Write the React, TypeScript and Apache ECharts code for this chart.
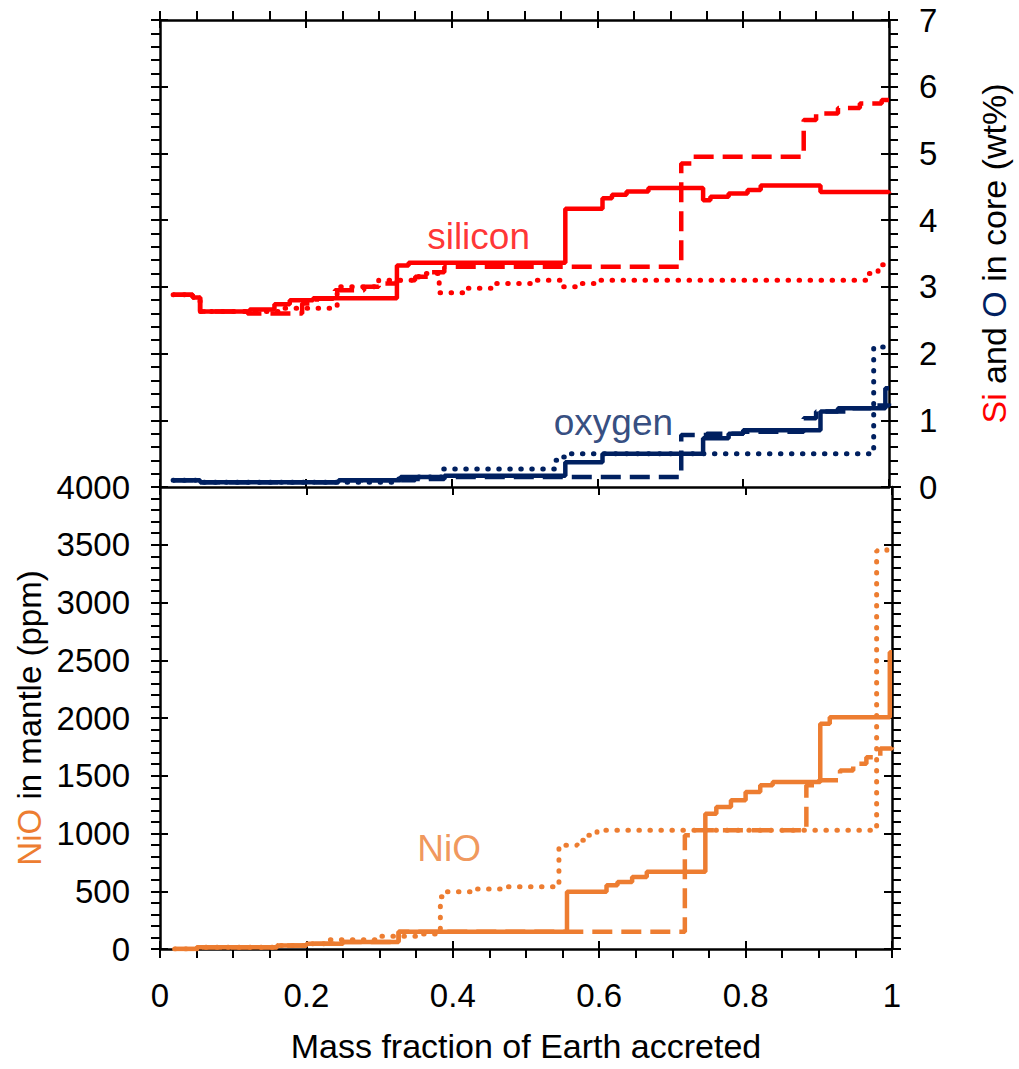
import React, { useEffect, useRef } from "react";
import * as echarts from "echarts";

// ---------- data ----------
const xTicks = [0, 0.2, 0.4, 0.6, 0.8, 1];
const coreTicks = [0, 1, 2, 3, 4, 5, 6, 7];
const mantleTicks = [0, 500, 1000, 1500, 2000, 2500, 3000, 3500, 4000];

// silicon in core (wt%) — [mass fraction, value]
const siSolid = [
  [0.018, 2.88], [0.045, 2.84], [0.055, 2.63], [0.123, 2.66], [0.157, 2.74], [0.178, 2.8],
  [0.21, 2.83], [0.325, 3.32], [0.341, 3.36], [0.556, 4.17], [0.607, 4.33], [0.62, 4.38],
  [0.64, 4.43], [0.67, 4.48], [0.745, 4.3], [0.755, 4.35], [0.78, 4.4], [0.806, 4.45],
  [0.824, 4.52], [0.906, 4.42], [1.0, 4.4],
];
const siDashed = [
  [0.018, 2.88], [0.045, 2.84], [0.055, 2.63], [0.12, 2.6], [0.195, 2.75], [0.215, 2.82],
  [0.24, 2.95], [0.28, 3.0], [0.3, 3.05], [0.325, 3.1], [0.35, 3.15], [0.373, 3.22],
  [0.39, 3.3], [0.715, 4.85], [0.73, 4.95], [0.883, 5.5], [0.9, 5.6], [0.93, 5.68],
  [0.96, 5.75], [0.99, 5.8], [1.0, 5.82],
];
const siDotted = [
  [0.018, 2.88], [0.045, 2.84], [0.055, 2.63], [0.168, 2.68], [0.243, 3.0], [0.3, 3.1],
  [0.355, 3.2], [0.383, 2.91], [0.42, 2.98], [0.46, 3.05], [0.51, 3.1], [0.549, 3.0],
  [0.57, 3.05], [0.6, 3.1], [0.97, 3.2], [0.985, 3.33], [1.0, 3.4],
];
// oxygen in core (wt%)
const oSolid = [
  [0.018, 0.1], [0.055, 0.07], [0.245, 0.1], [0.33, 0.15], [0.39, 0.17], [0.556, 0.37],
  [0.607, 0.5], [0.745, 0.73], [0.78, 0.8], [0.8, 0.85], [0.906, 1.13], [0.93, 1.18],
  [0.995, 1.48], [1.0, 1.48],
];
const oDashed = [
  [0.018, 0.1], [0.055, 0.07], [0.245, 0.1], [0.35, 0.12], [0.39, 0.15], [0.715, 0.78],
  [0.75, 0.8], [0.8, 0.83], [0.883, 1.03], [0.9, 1.13], [0.95, 1.18], [0.98, 1.22],
  [1.0, 1.25],
];
const oDotted = [
  [0.018, 0.1], [0.055, 0.07], [0.32, 0.12], [0.35, 0.15], [0.387, 0.27], [0.542, 0.4],
  [0.55, 0.45], [0.56, 0.5], [0.979, 2.1], [1.0, 2.12],
];
// NiO in mantle (ppm)
const nSolid = [
  [0.02, 0], [0.05, 15], [0.16, 30], [0.2, 45], [0.25, 60], [0.326, 150], [0.556, 495],
  [0.61, 553], [0.625, 581], [0.645, 624], [0.665, 668], [0.745, 1172], [0.76, 1229],
  [0.78, 1287], [0.8, 1359], [0.82, 1417], [0.837, 1445], [0.902, 1950], [0.915, 2007],
  [0.997, 2569], [1.0, 2569],
];
const nDashed = [
  [0.02, 0], [0.05, 15], [0.16, 30], [0.2, 45], [0.25, 60], [0.326, 150], [0.717, 985],
  [0.73, 1028], [0.883, 1417], [0.9, 1460], [0.929, 1546], [0.947, 1604], [0.965, 1661],
  [0.984, 1736], [1.0, 1762],
];
const nDotted = [
  [0.02, 0], [0.05, 15], [0.16, 30], [0.2, 45], [0.23, 80], [0.3, 110], [0.35, 130],
  [0.383, 452], [0.39, 495], [0.43, 520], [0.465, 538], [0.545, 898], [0.57, 942],
  [0.58, 985], [0.597, 1028], [0.979, 3447], [0.993, 3476], [1.0, 3476],
];
// annotation anchors [x, y, text]
const siLabel = [0.437, 3.76, "silicon"];
const oLabel = [0.622, 0.97, "oxygen"];
const nLabel = [0.395, 870, "NiO"];

const RED = "#FF0000";
const NAVY = "#002060";
const ORANGE = "#ED7D31";
const FONT = "'Liberation Sans', Arial, sans-serif";

function App() {
  const ref = useRef<HTMLDivElement>(null);
  useEffect(() => {
    const chart = echarts.init(ref.current!, null, { renderer: "svg" });
    const line = { show: true, onZero: false, lineStyle: { color: "#000", width: 2.5 } };
    const noLine = { show: false, onZero: false };
    const tickOut = { show: true, inside: false, length: 9, lineStyle: { color: "#000", width: 2 } };
    const tickIn = { show: true, inside: true, length: 8, lineStyle: { color: "#000", width: 2 } };
    const minor = (n: number) => ({ show: true, splitNumber: n, length: 9, lineStyle: { color: "#000", width: 2 } });
    const xBase = { type: "value", min: 0, max: 1, interval: 0.2, splitLine: { show: false } };
    const coreBase = { type: "value", min: 0, max: 7, interval: 1, splitLine: { show: false } };
    const mantleBase = { type: "value", min: 0, max: 4000, interval: 500, splitLine: { show: false } };
    const noLab = { show: false };

    const mkLine = (name: string, data: number[][], color: string, style: string, xi: number, yi: number) => {
      let lineStyle: any = { color, width: 4.5 };
      if (style === "dashed") lineStyle = { color, width: 4.5, type: [20, 9] };
      if (style === "dotted") lineStyle = { color, width: 5, type: [0.5, 10.5], cap: "round" };
      return {
        type: "line", name, data, step: "end", showSymbol: false, symbol: "none",
        xAxisIndex: xi, yAxisIndex: yi, lineStyle, silent: true, z: 3,
      };
    };
    const mkLabel = (lab: any[], color: string, xi: number, yi: number) => ({
      type: "scatter", xAxisIndex: xi, yAxisIndex: yi, symbolSize: 1, silent: true,
      itemStyle: { color: "transparent" }, z: 5,
      data: [[lab[0], lab[1]]],
      label: {
        show: true, position: "inside", formatter: lab[2], color,
        fontSize: 37, fontFamily: FONT,
      },
    });
    const tickLabel = (ticks: number[]) => ({
      show: true, margin: 30, fontSize: 33, color: "#000", fontFamily: FONT,
      formatter: (v: number) => (ticks.includes(v) ? String(v) : ""),
    });

    const option: any = {
      animation: false,
      textStyle: { fontFamily: FONT },
      grid: [
        { left: 160, top: 20, width: 732, height: 467 },
        { left: 160, top: 487, width: 732, height: 462 },
      ],
      xAxis: [
        { ...xBase, gridIndex: 0, position: "top", axisLine: line, axisTick: tickOut, minorTick: minor(4), axisLabel: noLab },
        { ...xBase, gridIndex: 0, position: "top", axisLine: noLine, axisTick: tickIn, axisLabel: noLab },
        { ...xBase, gridIndex: 0, position: "bottom", axisLine: line, axisTick: tickIn, axisLabel: noLab },
        {
          ...xBase, gridIndex: 1, position: "bottom", axisLine: line, axisTick: tickOut, minorTick: minor(4),
          axisLabel: tickLabel(xTicks),
          name: "Mass fraction of Earth accreted", nameLocation: "middle", nameGap: 80,
          nameTextStyle: { fontSize: 34, color: "#000", fontFamily: FONT },
        },
        { ...xBase, gridIndex: 1, position: "bottom", axisLine: noLine, axisTick: tickIn, axisLabel: noLab },
        { ...xBase, gridIndex: 1, position: "top", axisLine: noLine, axisTick: tickIn, axisLabel: noLab },
      ],
      yAxis: [
        {
          ...coreBase, gridIndex: 0, position: "right", axisLine: line, axisTick: tickOut, minorTick: minor(5),
          axisLabel: tickLabel(coreTicks),
          name: "{r|Si} and {b|O} in core (wt%)", nameLocation: "middle", nameRotate: 90, nameGap: 88,
          nameTextStyle: {
            fontSize: 34, color: "#000", fontFamily: FONT,
            rich: { r: { color: RED, fontSize: 34, fontFamily: FONT }, b: { color: NAVY, fontSize: 34, fontFamily: FONT } },
          },
        },
        { ...coreBase, gridIndex: 0, position: "right", axisLine: noLine, axisTick: tickIn, axisLabel: noLab },
        { ...coreBase, gridIndex: 0, position: "left", axisLine: line, axisTick: tickOut, minorTick: minor(5), axisLabel: noLab },
        { ...coreBase, gridIndex: 0, position: "left", axisLine: noLine, axisTick: tickIn, axisLabel: noLab },
        {
          ...mantleBase, gridIndex: 1, position: "left", axisLine: line, axisTick: tickOut, minorTick: minor(5),
          axisLabel: tickLabel(mantleTicks),
          name: "{o|NiO} in mantle (ppm)", nameLocation: "middle", nameRotate: 90, nameGap: 114,
          nameTextStyle: {
            fontSize: 33, color: "#000", fontFamily: FONT,
            rich: { o: { color: ORANGE, fontSize: 33, fontFamily: FONT } },
          },
        },
        { ...mantleBase, gridIndex: 1, position: "left", axisLine: noLine, axisTick: tickIn, axisLabel: noLab },
        { ...mantleBase, gridIndex: 1, position: "right", axisLine: line, axisTick: tickOut, minorTick: minor(5), axisLabel: noLab },
        { ...mantleBase, gridIndex: 1, position: "right", axisLine: noLine, axisTick: tickIn, axisLabel: noLab },
      ],
      series: [
        mkLine("Si dotted", siDotted, RED, "dotted", 0, 0),
        mkLine("Si dashed", siDashed, RED, "dashed", 0, 0),
        mkLine("Si solid", siSolid, RED, "solid", 0, 0),
        mkLine("O dotted", oDotted, NAVY, "dotted", 0, 0),
        mkLine("O dashed", oDashed, NAVY, "dashed", 0, 0),
        mkLine("O solid", oSolid, NAVY, "solid", 0, 0),
        mkLine("NiO dotted", nDotted, ORANGE, "dotted", 3, 4),
        mkLine("NiO dashed", nDashed, ORANGE, "dashed", 3, 4),
        mkLine("NiO solid", nSolid, ORANGE, "solid", 3, 4),
        mkLabel(siLabel, RED, 0, 0),
        mkLabel(oLabel, NAVY, 0, 0),
        mkLabel(nLabel, ORANGE, 3, 4),
      ],
    };
    chart.setOption(option);
    return () => chart.dispose();
  }, []);
  return (
    <div
      ref={ref}
      style={{ position: "fixed", left: 0, top: 0, width: 1019, height: 1069, background: "#fff" }}
    />
  );
}

export default App;
